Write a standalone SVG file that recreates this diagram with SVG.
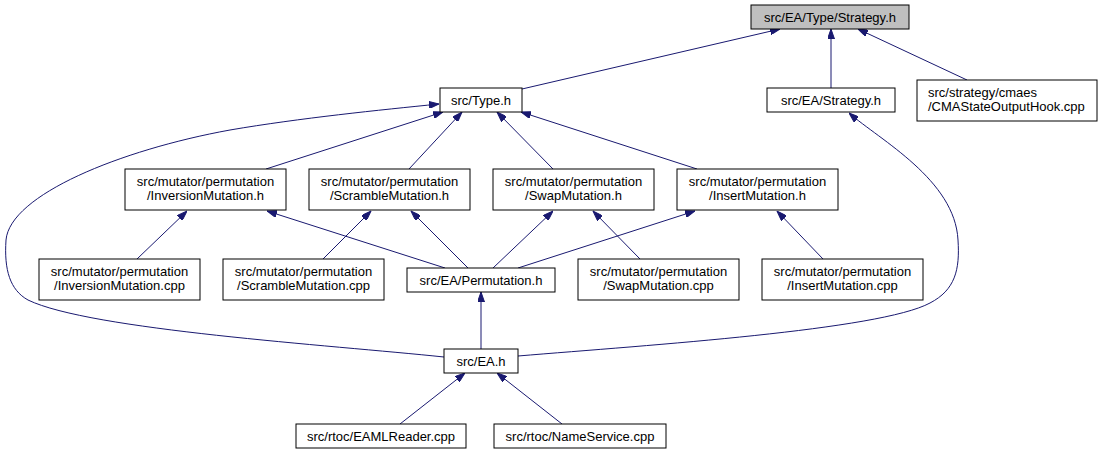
<svg xmlns="http://www.w3.org/2000/svg" width="1106" height="455" viewBox="0 0 1106 455">
<style>
.n rect{fill:#ffffff;stroke:#000000;stroke-width:1}
.n.root rect{fill:#bfbfbf}
.n text{font-family:"Liberation Sans",Arial,sans-serif;font-size:13px;fill:#000000;text-anchor:middle}
.n text.l{text-anchor:start}
.e path{fill:none;stroke:#191970;stroke-width:1;marker-end:url(#ah)}
</style>
<defs>
<marker id="ah" viewBox="0 0 10 7" refX="10" refY="3.5" markerWidth="10" markerHeight="7" markerUnits="userSpaceOnUse" orient="auto">
<path d="M0,0 L10,3.5 L0,7 z" fill="#191970" stroke="#191970" stroke-width="1"/>
</marker>
</defs>
<g id="edges" class="e">
<path d="M522,89 L780,29"/>
<path d="M831,88 L831,29"/>
<path d="M967,80 L858,29"/>
<path d="M444,357 C330,345 90,330 28,300 C10,290 4,270 6,240 C10,195 120,150 230,130 C300,118 380,110 439,104"/>
<path d="M266,169 L443,112"/>
<path d="M409,169 L462,112"/>
<path d="M553,169 L497,112"/>
<path d="M697,169 L521,112"/>
<path d="M518,356 C650,345 880,330 930,303 C955,290 960,270 958,240 C955,180 880,140 849,113"/>
<path d="M137,259 L187,211"/>
<path d="M445,268 L267,211"/>
<path d="M323,259 L371,211"/>
<path d="M468,268 L411,211"/>
<path d="M493,268 L553,211"/>
<path d="M640,259 L593,211"/>
<path d="M518,268 L695,211"/>
<path d="M823,259 L777,211"/>
<path d="M481,349 L481,292"/>
<path d="M400,424 L465,373"/>
<path d="M562,424 L497,373"/>
</g>
<g id="n_type_strategy" class="n root"><rect x="751" y="5" width="158" height="24"/><text x="830" y="21.5">src/EA/Type/Strategy.h</text></g>
<g id="n_type" class="n"><rect x="440" y="88" width="82" height="24"/><text x="481" y="104.5">src/Type.h</text></g>
<g id="n_ea_strategy" class="n"><rect x="767" y="88" width="128" height="24"/><text x="831" y="104.5">src/EA/Strategy.h</text></g>
<g id="n_cma" class="n"><rect x="917" y="80" width="180" height="41"/><text class="l" x="928" y="97">src/strategy/cmaes</text><text class="l" x="928" y="111">/CMAStateOutputHook.cpp</text></g>
<g id="n_inv_h" class="n"><rect x="125" y="169" width="161" height="41"/><text x="205.5" y="186">src/mutator/permutation</text><text x="205.5" y="200">/InversionMutation.h</text></g>
<g id="n_scr_h" class="n"><rect x="309" y="169" width="161" height="41"/><text x="389.5" y="186">src/mutator/permutation</text><text x="389.5" y="200">/ScrambleMutation.h</text></g>
<g id="n_swp_h" class="n"><rect x="493" y="169" width="161" height="41"/><text x="573.5" y="186">src/mutator/permutation</text><text x="573.5" y="200">/SwapMutation.h</text></g>
<g id="n_ins_h" class="n"><rect x="677" y="169" width="161" height="41"/><text x="757.5" y="186">src/mutator/permutation</text><text x="757.5" y="200">/InsertMutation.h</text></g>
<g id="n_inv_cpp" class="n"><rect x="39" y="259" width="161" height="41"/><text x="119.5" y="276">src/mutator/permutation</text><text x="119.5" y="290">/InversionMutation.cpp</text></g>
<g id="n_scr_cpp" class="n"><rect x="223" y="259" width="161" height="41"/><text x="303.5" y="276">src/mutator/permutation</text><text x="303.5" y="290">/ScrambleMutation.cpp</text></g>
<g id="n_perm" class="n"><rect x="407" y="268" width="148" height="24"/><text x="481" y="284.5">src/EA/Permutation.h</text></g>
<g id="n_swp_cpp" class="n"><rect x="578" y="259" width="161" height="41"/><text x="658.5" y="276">src/mutator/permutation</text><text x="658.5" y="290">/SwapMutation.cpp</text></g>
<g id="n_ins_cpp" class="n"><rect x="762" y="259" width="161" height="41"/><text x="842.5" y="276">src/mutator/permutation</text><text x="842.5" y="290">/InsertMutation.cpp</text></g>
<g id="n_ea" class="n"><rect x="444" y="349" width="74" height="24"/><text x="481" y="365.5">src/EA.h</text></g>
<g id="n_eaml" class="n"><rect x="296" y="424" width="170" height="24"/><text x="381" y="440.5">src/rtoc/EAMLReader.cpp</text></g>
<g id="n_names" class="n"><rect x="494" y="424" width="172" height="24"/><text x="580" y="440.5">src/rtoc/NameService.cpp</text></g>
</svg>
